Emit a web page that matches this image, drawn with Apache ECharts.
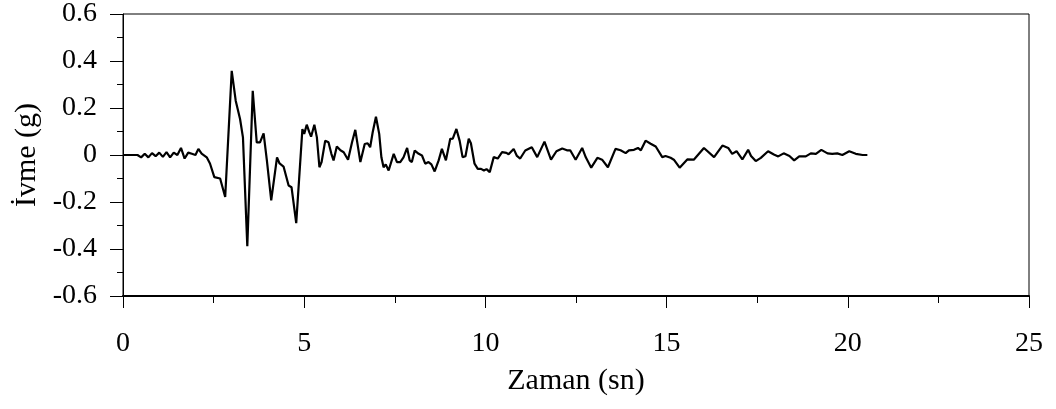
<!DOCTYPE html>
<html><head><meta charset="utf-8">
<script src="https://cdn.jsdelivr.net/npm/echarts@6/dist/echarts.min.js"></script>
<style>html,body{margin:0;padding:0;background:#fff}#c{width:1056px;height:409px}</style>
</head><body><div id="c"></div>
<script>
const time = [0,0.2,0.4,0.5,0.6,0.7,0.8,0.9,1.0,1.1,1.2,1.3,1.4,1.5,1.6,1.7,1.8,1.9,2.0,2.08,2.17,2.31,2.40,2.52,2.68,2.71,2.82,3.00,3.11,3.23,3.31,3.43,3.58,3.69,3.78,3.88,3.97,4.09,4.25,4.32,4.43,4.57,4.65,4.78,4.95,5.00,5.07,5.14,5.19,5.28,5.35,5.42,5.48,5.58,5.67,5.75,5.81,5.90,6.00,6.09,6.21,6.32,6.41,6.55,6.67,6.75,6.82,6.89,6.98,7.07,7.13,7.19,7.25,7.33,7.47,7.56,7.65,7.74,7.84,7.91,7.97,8.05,8.16,8.25,8.34,8.43,8.51,8.60,8.71,8.80,8.91,9.03,9.10,9.20,9.29,9.37,9.45,9.54,9.60,9.70,9.79,9.88,9.96,10.03,10.12,10.23,10.34,10.46,10.58,10.64,10.78,10.87,10.96,11.1,11.28,11.43,11.63,11.81,11.96,12.12,12.25,12.34,12.49,12.67,12.77,12.92,13.09,13.22,13.38,13.59,13.73,13.87,13.96,14.10,14.21,14.29,14.42,14.56,14.70,14.88,14.97,15.11,15.2,15.36,15.57,15.75,16.03,16.31,16.54,16.70,16.81,16.93,17.09,17.25,17.33,17.46,17.60,17.80,17.96,18.08,18.23,18.39,18.52,18.66,18.84,18.98,19.12,19.27,19.44,19.57,19.71,19.85,20.04,20.22,20.41,20.54];
const acc = [0,0,0.0,-0.01,0.005,-0.01,0.008,-0.005,0.01,-0.008,0.012,-0.01,0.01,0.0,0.03,-0.015,0.01,0.005,0.0,0.026,0.006,-0.01,-0.036,-0.094,-0.10,-0.095,-0.179,0.358,0.231,0.153,0.075,-0.388,0.273,0.054,0.054,0.092,-0.023,-0.193,-0.01,-0.036,-0.049,-0.13,-0.137,-0.29,0.11,0.09,0.129,0.097,0.078,0.129,0.075,-0.052,-0.03,0.061,0.054,0.005,-0.023,0.036,0.02,0.012,-0.02,0.054,0.107,-0.03,0.047,0.05,0.033,0.097,0.163,0.09,-0.01,-0.052,-0.04,-0.066,0.005,-0.03,-0.03,-0.01,0.03,-0.023,-0.03,0.019,0.005,-0.002,-0.037,-0.03,-0.04,-0.07,-0.023,0.026,-0.023,0.069,0.07,0.111,0.06,-0.009,-0.005,0.069,0.05,-0.037,-0.059,-0.059,-0.066,-0.06,-0.073,-0.009,-0.015,0.012,0.009,0.003,0.026,-0.004,-0.015,0.019,0.033,-0.009,0.057,-0.02,0.016,0.028,0.02,0.02,-0.02,0.03,-0.01,-0.054,-0.012,-0.02,-0.052,0.026,0.02,0.008,0.02,0.022,0.03,0.02,0.061,0.048,0.036,-0.009,-0.004,-0.012,-0.02,-0.054,-0.019,-0.02,0.03,-0.009,0.04,0.03,0.005,0.016,-0.019,0.022,-0.004,-0.026,-0.012,0.016,0.002,-0.006,0.007,-0.004,-0.023,-0.006,-0.006,0.007,0.005,0.022,0.007,0.005,0.007,0.0,0.016,0.005,0.0,0.0];
const xTicks = [0,5,10,15,20,25];
const yTicks = [-0.6,-0.4,-0.2,0,0.2,0.4,0.6];
const xName = 'Zaman (sn)';
const yName = 'İvme (g)';

const font = '"Liberation Serif","Times New Roman",serif';
const chart = echarts.init(document.getElementById('c'), null, {renderer:'canvas'});
chart.setOption({
  animation:false,
  grid:{left:123,right:27,top:13,bottom:113,show:true,borderColor:'#000',borderWidth:1,backgroundColor:'transparent'},
  xAxis:{type:'value',min:xTicks[0],max:xTicks[xTicks.length-1],interval:5,
    name:xName,nameLocation:'middle',nameGap:70,
    nameTextStyle:{fontFamily:font,fontSize:30,color:'#000'},
    axisLine:{onZero:false,lineStyle:{color:'#000',width:2}},
    axisTick:{show:true,inside:false,length:12,lineStyle:{color:'#000',width:1}},
    minorTick:{show:true,splitNumber:2,length:7,lineStyle:{color:'#000',width:1}},
    splitLine:{show:false},
    axisLabel:{fontFamily:font,fontSize:28,color:'#000',margin:34}},
  yAxis:{type:'value',min:yTicks[0],max:yTicks[yTicks.length-1],interval:0.2,
    name:yName,nameLocation:'middle',nameGap:80,
    nameTextStyle:{fontFamily:font,fontSize:30,color:'#000'},
    axisLine:{onZero:false,lineStyle:{color:'#000',width:1}},
    axisTick:{show:true,inside:false,length:13,lineStyle:{color:'#000',width:1}},
    minorTick:{show:true,splitNumber:2,length:6,lineStyle:{color:'#000',width:1}},
    splitLine:{show:false},
    axisLabel:{fontFamily:font,fontSize:28,color:'#000',margin:26,
      formatter:v=>{const r=Math.round(v*10)/10;return r===0?'0':r.toFixed(1);}}},
  series:[{type:'line',data:time.map((t,i)=>[t,acc[i]]),showSymbol:false,
    lineStyle:{color:'#000',width:2.2},itemStyle:{color:'#000'}}]
});
</script></body></html>
